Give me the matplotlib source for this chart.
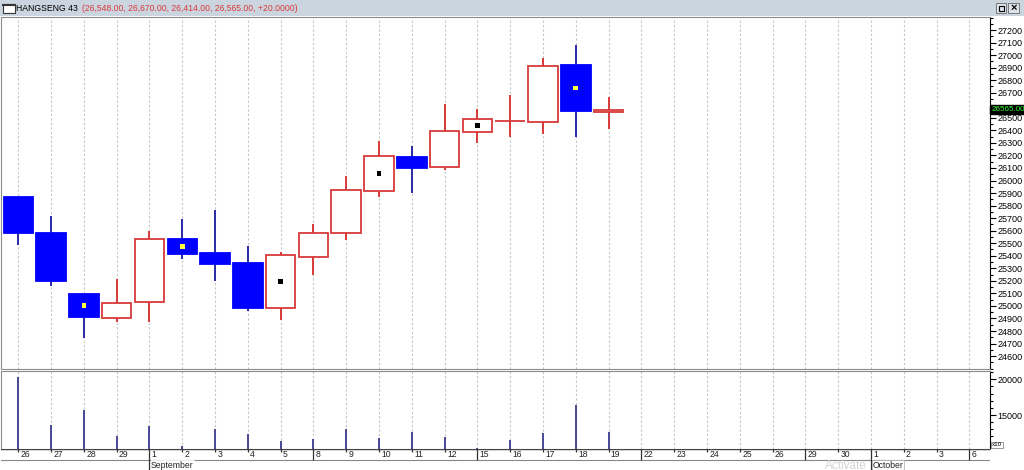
import numpy as np
import matplotlib
matplotlib.use("Agg")
import matplotlib.pyplot as plt
import matplotlib.transforms as mtransforms
from matplotlib.ticker import MultipleLocator, FixedLocator

plt.rcParams['font.family'] = ['Liberation Sans', 'DejaVu Sans']

# Daily candles, HANGSENG (26 Aug - 19 Sep)
opens = [25871, 25584, 25092, 24903, 25029, 25531, 25419, 25340, 24981, 25390,
         25584, 25916, 26185, 26104, 26389, 26477, 26469, 26921, 26548]
highs = [25871, 25719, 25092, 25215, 25600, 25693, 25765, 25480, 25432, 25651,
         26036, 26315, 26275, 26610, 26573, 26679, 26974, 27080, 26670]
lows = [25483, 25159, 24744, 24874, 24874, 25376, 25199, 24962, 24888, 25246,
        25525, 25866, 25898, 26081, 26297, 26349, 26368, 26349, 26414]
closes = [25584, 25199, 24914, 25026, 25531, 25416, 25332, 24981, 25406, 25584,
          25924, 26195, 26102, 26392, 26488, 26477, 26915, 26557, 26565]
volumes = [20300, 13600, 15700, 12100, 13500, 10600, 13100, 12300, 11400, 11650,
           13080, 11820, 12660, 11960, 10450, 11500, 12480, 16400, 12620]
marked = [2, 5, 8, 11, 14, 17]   # candles with a small square in the body

# x axis labels (one per trading day)
day_labels = ['26', '27', '28', '29', '1', '2', '3', '4', '5', '8', '9', '10', '11',
              '12', '15', '16', '17', '18', '19', '22', '23', '24', '25', '26',
              '29', '30', '1', '2', '3', '6']
week_starts = [9, 14, 19, 24, 29]
months = ['September', 'October']
month_starts = [4, 26]
change_text = '+20.0000'

BLUE = '#0000ff'
BLUE_WICK = '#2a2aa8'
RED = '#d83a3a'
GRID = '#c4c4c4'
EDGE = '#8c8c8c'

W, H = 1024, 470
fig = plt.figure(figsize=(W / 100, H / 100), dpi=100)
fig.patch.set_facecolor('white')


def box(x0, y0, x1, y1):
    # pixel box (top-left origin) -> figure rect
    return [x0 / W, 1 - y1 / H, (x1 - x0) / W, (y1 - y0) / H]


xmin, xmax = -0.527, 29.63

# ---- title strip
tax = fig.add_axes(box(0, 0, W, 16))
tax.set_xlim(0, W)
tax.set_ylim(16, 0)
tax.set_facecolor('#cbd5df')
for s in tax.spines.values():
    s.set_visible(False)
tax.set_xticks([])
tax.set_yticks([])
tax.add_patch(plt.Rectangle((3, 4), 12, 9, facecolor='white', edgecolor='#333333', lw=0.8))
tax.plot([3, 15], [4.5, 4.5], color='#333333', lw=1.5)
t1 = tax.text(16, 8.5, 'HANGSENG 43', fontsize=6.2, va='center', ha='left', color='black')
vals = f"({opens[-1]:,.2f}, {highs[-1]:,.2f}, {lows[-1]:,.2f}, {closes[-1]:,.2f}, {change_text})"
tax.annotate(vals, xy=(1, 0.5), xycoords=t1, xytext=(3, 0), textcoords='offset points',
             fontsize=6.2, va='center', ha='left', color='#d83a3a')
tax.add_patch(plt.Rectangle((996, 3), 10, 10, facecolor='#dde3ea', edgecolor='#777777', lw=0.7))
tax.add_patch(plt.Rectangle((998.5, 5.5), 5, 5, facecolor='none', edgecolor='black', lw=0.8))
tax.add_patch(plt.Rectangle((1008, 3), 11, 10, facecolor='#dde3ea', edgecolor='#777777', lw=0.7))
tax.text(1013.5, 8.3, '×', fontsize=8, fontweight='bold', ha='center', va='center')

# ---- price pane
ax = fig.add_axes(box(1, 17, 990, 369))
x = np.arange(len(opens))
o = np.array(opens)
c = np.array(closes)
up = c >= o
col = np.where(up, RED, BLUE)
wick_col = np.where(up, RED, BLUE_WICK)

ax.vlines(x, lows, highs, colors=wick_col, lw=1.4, zorder=2)
ax.bar(x, np.abs(c - o), bottom=np.minimum(o, c), width=0.9,
       facecolor=np.where(up, 'white', BLUE), edgecolor=col, lw=1.3, zorder=3)
mid = (o + c) / 2
mk = np.array(marked)
ax.scatter(mk, mid[mk], marker='s', s=11, zorder=4,
           c=np.where(up[mk], 'black', '#ffff40'), linewidths=0)

ax.set_xlim(xmin, xmax)
ax.set_ylim(24497, 27304)
ax.xaxis.set_major_locator(FixedLocator(range(len(day_labels))))
ax.grid(axis='x', color=GRID, ls=(0, (2, 2)), lw=0.8)
ax.tick_params(axis='x', length=0, labelbottom=False)
ax.yaxis.tick_right()
ax.set_yticks(np.arange(24600, 27201, 100))
ax.yaxis.set_minor_locator(MultipleLocator(50))
ax.tick_params(axis='y', which='major', length=4, width=0.8, labelsize=6.5, pad=1.5)
ax.tick_params(axis='y', which='minor', length=2, width=0.8)
for lab in ax.get_yticklabels():
    if lab.get_text() == '26600':
        lab.set_visible(False)
for name, s in ax.spines.items():
    s.set_color(EDGE if name != 'right' else 'black')
    s.set_linewidth(0.8)
trans = mtransforms.blended_transform_factory(ax.transAxes, ax.transData)
ax.text(1.0012, closes[-1], f"{closes[-1]:.2f}", transform=trans, fontsize=5.8,
        color='#33ff33', va='center', ha='left',
        bbox=dict(boxstyle='square,pad=0.1', facecolor='black', edgecolor='black'))

# ---- volume pane
vax = fig.add_axes(box(1, 371, 990, 449))
vax.vlines(x, 0, volumes, colors='#3c3c8c', lw=1.3, zorder=3)
vax.set_xlim(xmin, xmax)
vax.set_ylim(10242, 21162)
vax.xaxis.set_major_locator(FixedLocator(range(len(day_labels))))
vax.grid(axis='x', color=GRID, ls=(0, (2, 2)), lw=0.8)
vax.tick_params(axis='x', length=0, labelbottom=False)
vax.yaxis.tick_right()
vax.set_yticks([15000, 20000])
vax.yaxis.set_minor_locator(MultipleLocator(1000))
vax.tick_params(axis='y', which='major', length=4, width=0.8, labelsize=6.5, pad=1.5)
vax.tick_params(axis='y', which='minor', length=2, width=0.8)
for name, s in vax.spines.items():
    s.set_color(EDGE if name != 'right' else 'black')
    s.set_linewidth(0.8)
vax.text(1.002, 0.02, 'x10', transform=vax.transAxes, fontsize=4.5, va='bottom', ha='left',
         bbox=dict(boxstyle='square,pad=0.15', facecolor='white', edgecolor='#888888', lw=0.6))

# ---- date strip
dax = fig.add_axes(box(1, 449, 990, 470))
dax.set_xlim(xmin, xmax)
dax.set_ylim(1, 0)
dax.axis('off')
dax.axhline(0, color='#444444', lw=1.0)
dax.axhline(0.5, color='#888888', lw=0.8)
for i, lab in enumerate(day_labels):
    if i in month_starts:
        dax.vlines(i, 0, 1, color='#333333', lw=0.9)
    elif i in week_starts:
        dax.vlines(i, 0, 0.5, color='#333333', lw=0.9)
    else:
        dax.vlines(i, 0, 0.16, color='#333333', lw=0.9)
    dax.text(i + 0.07, 0.27, lab, fontsize=6.2, va='center', ha='left', color='#222222')
for i, m in zip(month_starts, months):
    dax.text(i + 0.05, 0.77, m, fontsize=6.2, va='center', ha='left', color='#222222',
             zorder=5, bbox=dict(boxstyle='square,pad=0.05', facecolor='white',
                                 edgecolor='#aaaaaa' if m == 'October' else 'white', lw=0.5))
fig.text(825 / W, 1 - 466 / H, 'Activate', fontsize=8.5, color='#d4d4d4',
         va='center', ha='left', zorder=0)

fig.savefig('out.png', dpi=100)
